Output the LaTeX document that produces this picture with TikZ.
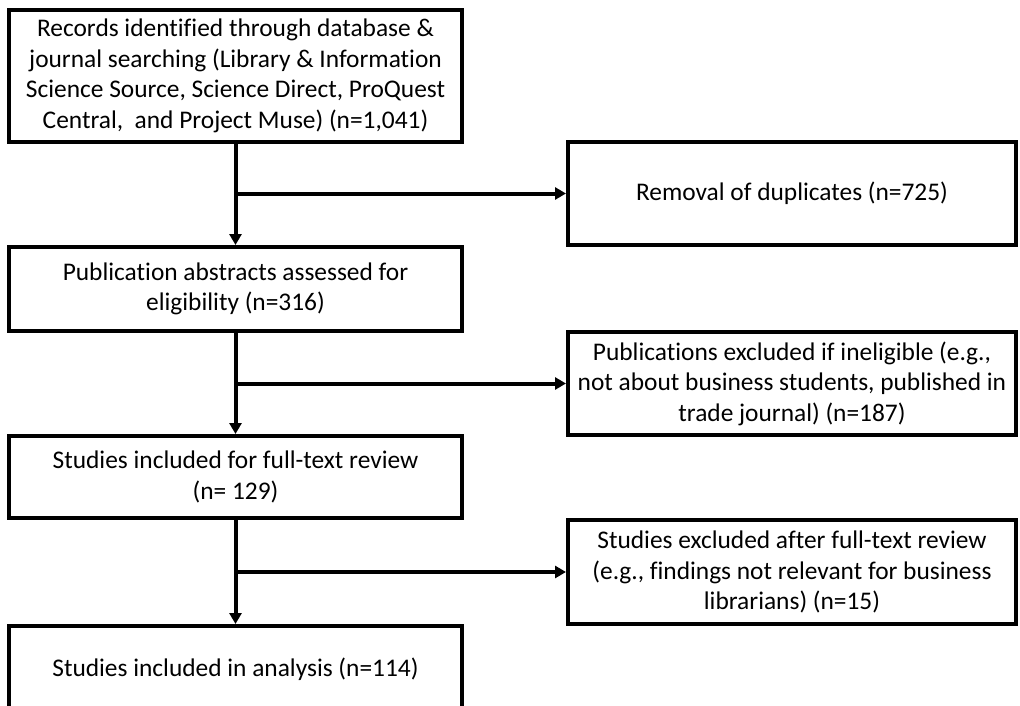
\documentclass[tikz,border=0pt]{standalone}
\usepackage{fontspec}
\setmainfont[Ligatures=NoCommon]{Carlito}
\usetikzlibrary{arrows.meta}
\begin{document}
\begin{tikzpicture}[x=1pt,y=-1pt,
  box/.style={draw=black,line width=4pt,inner sep=0pt,align=center,
    font=\fontsize{25.4}{30.5}\selectfont},
  arr/.style={line width=4pt,-{Triangle[length=11pt,width=12pt]}}]
\useasboundingbox (0,0) rectangle (1020,706);
\begin{scope}
\clip (0,0) rectangle (1020,706);
\node[box,minimum width=453pt,minimum height=132pt] (b1) at (235.5,76)
  {Records identified through database \&\\journal searching (Library \& Information\\Science Source, Science Direct, ProQuest\\Central,\ \ and Project Muse) (n=1,041)};
\node[box,minimum width=448pt,minimum height=103pt] (b2) at (792,193.5)
  {Removal of duplicates (n=725)};
\node[box,minimum width=453pt,minimum height=84pt] (b3) at (235.5,289)
  {Publication abstracts assessed for\\eligibility (n=316)};
\node[box,minimum width=448pt,minimum height=103pt] (b4) at (792,383.5)
  {Publications excluded if ineligible (e.g.,\\not about business students, published in\\trade journal) (n=187)};
\node[box,minimum width=453pt,minimum height=82pt] (b5) at (235.5,477)
  {Studies included for full-text review\\(n= 129)};
\node[box,minimum width=448pt,minimum height=104pt] (b6) at (792,572)
  {Studies excluded after full-text review\\(e.g., findings not relevant for business\\librarians) (n=15)};
\node[box,minimum width=453pt,minimum height=86pt] (b7) at (235.5,669)
  {Studies included in analysis (n=114)};
\end{scope}
\coordinate (j1) at (b1.south |- b2.west);
\coordinate (j2) at (b3.south |- b4.west);
\coordinate (j3) at (b5.south |- b6.west);
\draw[arr] (b1.south) -- (b3.north);
\draw[arr] (j1) -- (b2.west);
\draw[arr] (b3.south) -- (b5.north);
\draw[arr] (j2) -- (b4.west);
\draw[arr] (b5.south) -- (b7.north);
\draw[arr] (j3) -- (b6.west);
\end{tikzpicture}
\end{document}
